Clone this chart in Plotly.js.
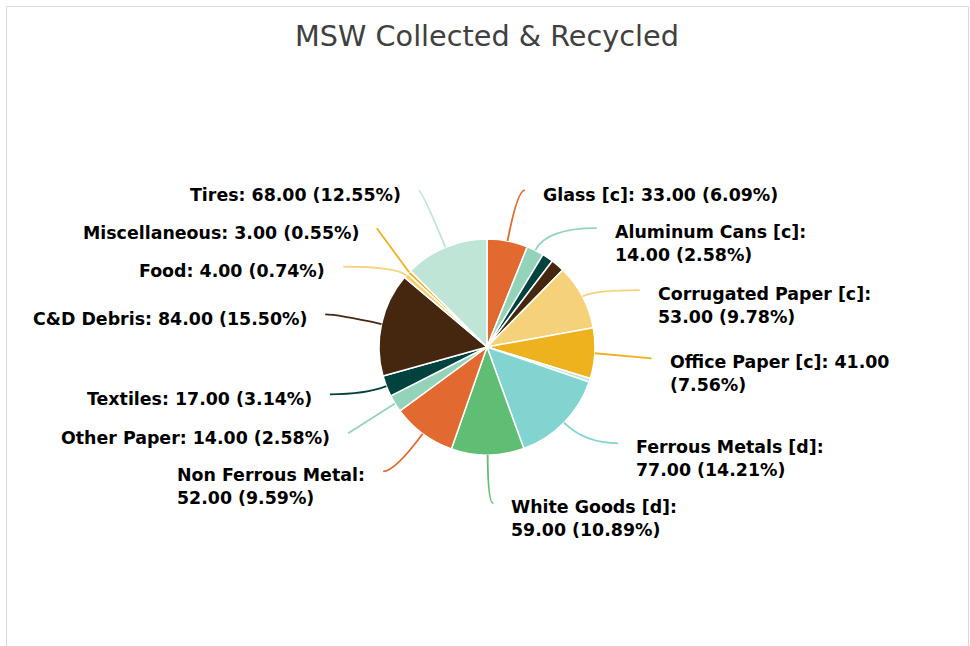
<!DOCTYPE html>
<html>
<head>
<meta charset="utf-8">
<script src="https://cdn.plot.ly/plotly-3.0.1.min.js"></script>
<style>html,body{margin:0;padding:0;background:#fff;}#chart{width:970px;height:646px;}</style>
</head>
<body>
<div id="chart"></div>
<script>
// ---- data ----
const categories = ['Glass [c]', 'Aluminum Cans [c]', 'Unlabeled 1', 'Unlabeled 2',
  'Corrugated Paper [c]', 'Office Paper [c]', 'Unlabeled 3', 'Ferrous Metals [d]',
  'White Goods [d]', 'Non Ferrous Metal', 'Other Paper', 'Textiles', 'C&D Debris',
  'Food', 'Miscellaneous', 'Tires'];
const values = [33, 14, 9, 11, 53, 41, 3, 77, 59, 52, 14, 17, 84, 4, 3, 68];
const showLabel = [1, 1, 0, 0, 1, 1, 0, 1, 1, 1, 1, 1, 1, 1, 1, 1];
const chartTitle = 'MSW Collected & Recycled';

// ---- style / label layout ----
const palette = ['#E2692F', '#93D3BA', '#00423E', '#45260F', '#F5D27A', '#EDB21E', '#BFE5D7', '#82D4D1', '#5FBE73'];
const colors = values.map((v, i) => palette[i % palette.length]);
const lineBreak = [0, 1, 0, 0, 1, 2, 0, 1, 1, 1, 0, 0, 0, 0, 0, 0]; // 1: after name, 2: after value
const angleShift = [2.6, 16.1, 0, 0, 7.5, 0.6, 0, -8.2, -2.0, 3.3, -0.3, 4.5, -0.9, -12.3, 3.3, -1.0];
const radiusScale = [1.495, 1.496, 1.5, 1.5, 1.509, 1.528, 1.5, 1.507, 1.449, 1.5, 1.513, 1.519, 1.528, 1.524, 1.5, 1.583];

const W = 970, H = 646;
const CX = 487, CY = 347, R = 108;
const X = px => px / W;
const Y = py => 1 - py / H;

const total = values.reduce((a, b) => a + b, 0);
const shapes = [];
const annotations = [];
let cum = 0;
values.forEach((v, i) => {
  const mid = (cum + v / 2) / total * 360;
  cum += v;
  if (!showLabel[i]) return;
  const a0 = mid * Math.PI / 180;
  const dx = Math.sin(a0), dy = -Math.cos(a0);
  const sx = CX + R * dx, sy = CY + R * dy;
  const la = (mid + angleShift[i]) * Math.PI / 180;
  const tx = CX + R * radiusScale[i] * Math.sin(la);
  const ty = CY - R * radiusScale[i] * Math.cos(la);
  // control point: radial line from slice meets horizontal line through label point
  let cx = tx, cy = ty;
  if (Math.abs(dy) > 1e-3) {
    const t = (ty - sy) / dy;
    const ix = sx + t * dx;
    if (t > 0 && (ix - sx) * (tx - ix) >= 0) { cx = ix; cy = ty; }
  }
  shapes.push({
    type: 'path', xref: 'paper', yref: 'paper',
    path: `M ${X(sx)} ${Y(sy)} Q ${X(cx)} ${Y(cy)} ${X(tx)} ${Y(ty)}`,
    line: {color: colors[i], width: 1.8}
  });
  const pct = (v / total * 100).toFixed(2) + '%';
  const name = categories[i] + ':';
  const val = v.toFixed(2);
  let txt;
  if (lineBreak[i] === 1) txt = `${name}<br>${val} (${pct})`;
  else if (lineBreak[i] === 2) txt = `${name} ${val}<br>(${pct})`;
  else txt = `${name} ${val} (${pct})`;
  const nLines = lineBreak[i] ? 2 : 1;
  const right = tx >= CX;
  const firstCenter = ty + 4.5;
  const blockCenter = firstCenter + (nLines - 1) * 11;
  annotations.push({
    xref: 'paper', yref: 'paper',
    x: X(right ? tx + 16 : tx - 16), y: Y(blockCenter),
    xanchor: right ? 'left' : 'right', yanchor: 'middle', align: 'left',
    text: '<b>' + txt + '</b>', showarrow: false,
    font: {family: 'DejaVu Sans', size: 17.4, color: '#000'}
  });
});

// frame
shapes.push({type: 'rect', xref: 'paper', yref: 'paper', x0: X(6.5), x1: X(968.5), y0: -0.05, y1: Y(6.5),
  line: {color: '#DADADA', width: 1}, fillcolor: 'rgba(0,0,0,0)'});

const trace = {
  type: 'pie', labels: categories, values: values, sort: false, direction: 'clockwise', rotation: 0,
  marker: {colors: colors, line: {color: '#FFFFFF', width: 1.5}},
  textinfo: 'none', hoverinfo: 'skip', showlegend: false,
  domain: {x: [X(CX - R), X(CX + R)], y: [Y(CY + R), Y(CY - R)]}
};

const layout = {
  width: W, height: H, margin: {l: 0, r: 0, t: 0, b: 0},
  paper_bgcolor: '#FFFFFF', showlegend: false,
  title: {text: chartTitle, x: X(487), xanchor: 'center', y: 1 - 36 / H, yanchor: 'middle',
    font: {family: 'DejaVu Sans', size: 28.7, color: '#404040'}},
  shapes: shapes, annotations: annotations
};

Plotly.newPlot('chart', [trace], layout, {displayModeBar: false, staticPlot: true});
</script>
</body>
</html>
